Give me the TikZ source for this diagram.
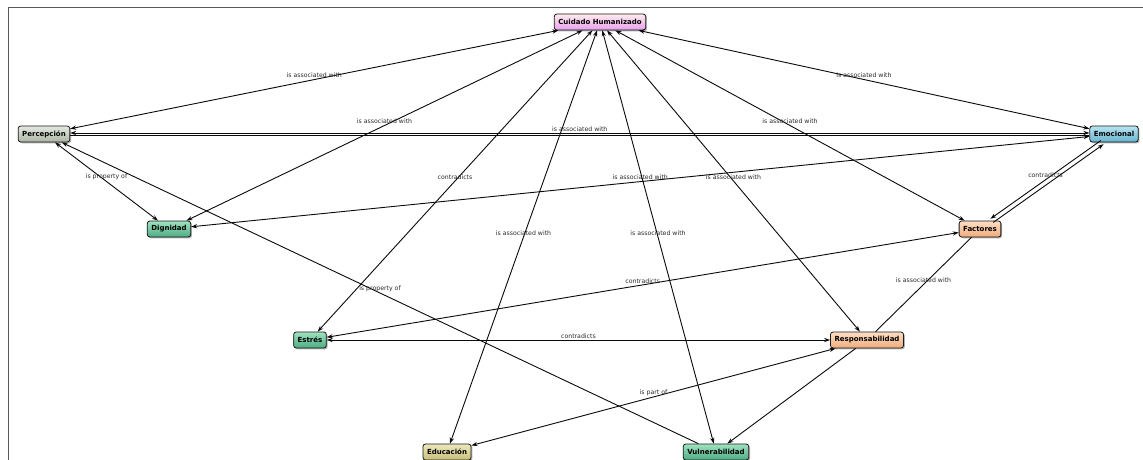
\documentclass[tikz,border=0pt]{standalone}
\usepackage{fontspec}
\setmainfont{DejaVu Sans}
\usetikzlibrary{arrows.meta,shadows}
\definecolor{edgec}{HTML}{0A0A0A}
\definecolor{lblc}{HTML}{2A2A2A}
\begin{document}
\begin{tikzpicture}[x=1pt,y=-1pt,
  concept/.style={draw=black!90, line width=0.8pt, rounded corners=2.5pt,
    minimum height=16pt, inner xsep=4pt, inner ysep=0pt,
    font=\fontsize{7}{8}\selectfont\bfseries,
    drop shadow={shadow xshift=1.3pt, shadow yshift=-1.3pt, opacity=0.6}},
  pinkc/.style={concept, top color=pink!30!white, bottom color={rgb,255:red,232;green,160;blue,236}},
  grayc/.style={concept, top color={rgb,255:red,228;green,232;blue,224}, bottom color={rgb,255:red,172;green,182;blue,164}},
  bluec/.style={concept, top color={rgb,255:red,184;green,228;blue,242}, bottom color={rgb,255:red,104;green,180;blue,206}},
  greenc/.style={concept, top color={rgb,255:red,160;green,226;blue,192}, bottom color={rgb,255:red,76;green,172;blue,130}},
  peachc/.style={concept, top color={rgb,255:red,252;green,222;blue,196}, bottom color={rgb,255:red,240;green,172;blue,124}},
  khakic/.style={concept, top color={rgb,255:red,236;green,232;blue,188}, bottom color={rgb,255:red,200;green,190;blue,122}},
  rel/.style={draw=edgec, line width=0.9pt, arrows={-}},
  tip/.style={rel, >={Stealth[length=6pt,width=4.2pt]}},
  lbl/.style={midway, above=1.2pt, inner sep=0pt, text=lblc, font=\fontsize{6.2}{7}\selectfont}
]
\useasboundingbox (0,0) rectangle (1143,460);
\fill[white] (0,0) rectangle (1143,460);
\draw[black!65, line width=1pt] (8,460) -- (8,8) -- (1143,8);

\node[pinkc]  (C)  at (600,22)  {Cuidado Humanizado};
\node[grayc]  (P)  at (44,134)  {Percepción};
\node[bluec]  (Em) at (1114,134) {Emocional};
\node[greenc] (D)  at (169,229) {Dignidad};
\node[peachc] (F)  at (980,229) {Factores};
\node[greenc] (Es) at (310,340) {Estrés};
\node[peachc] (R)  at (867,340) {Responsabilidad};
\node[khakic] (Ed) at (447,452) {Educación};
\node[greenc] (V)  at (716,452) {Vulnerabilidad};

\draw[tip,<->] (C) -- node[lbl]{is associated with} (P);
\draw[tip,<->] (C) -- node[lbl]{is associated with} (Em);
\draw[tip,<->] ([yshift=1pt]P.east) -- node[lbl]{is associated with} ([yshift=1pt]Em.west);
\draw[rel] ([yshift=-1pt]P.east) -- ([yshift=-1pt]Em.west);
\draw[tip,<->] (C) -- node[lbl]{is associated with} (D);
\draw[tip,<->] (Em) -- node[lbl]{is associated with} (D);
\draw[tip,<->] (P) -- node[lbl]{is property of} (D);
\draw[tip,<-] (P) -- node[lbl]{is property of} (V);
\draw[tip,<->] (C) -- node[lbl]{contradicts} (Es);
\draw[tip,<->] (C) -- node[lbl]{is associated with} (Ed);
\draw[tip,<->] (C) -- node[lbl]{is associated with} (V);
\draw[tip,<->] (C) -- node[lbl]{is associated with} (R);
\draw[tip,<->] (C) -- node[lbl]{is associated with} (F);
\draw[tip,->,transform canvas={shift={(-1.4pt,1.8pt)}}] (Em) -- node[lbl]{contradicts} (F);
\draw[tip,<-,transform canvas={shift={(1.4pt,-1.8pt)}}] (Em) -- (F);
\draw[tip,<->] (F) -- node[lbl]{contradicts} (Es);
\draw[tip,<->] (Es) -- node[lbl]{contradicts} (R);
\draw[rel] (R) -- node[lbl]{is associated with} (F);
\draw[tip,<->] (R) -- node[lbl]{is part of} (Ed);
\draw[tip,->] (R) -- (V);
\end{tikzpicture}
\end{document}
